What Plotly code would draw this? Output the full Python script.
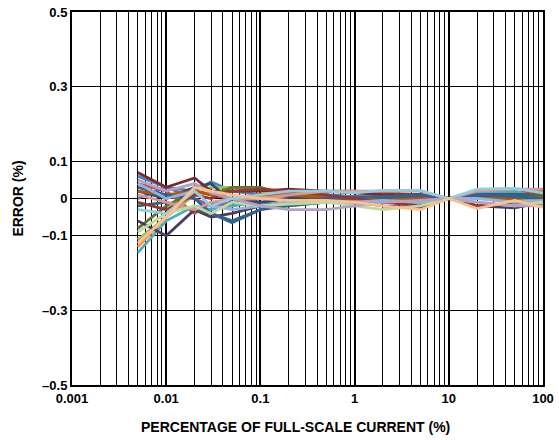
import plotly.graph_objects as go

# ---- data ----
x_pct = [0.005, 0.01, 0.02, 0.03, 0.05, 0.1, 0.2, 0.5, 1, 2, 5, 10, 20, 50, 100]

s01 = [0.06, 0.03, 0.02, 0.045, 0.02, 0.01, 0.01, 0.01, 0.005, 0.0, 0.005, 0, 0.01, 0.01, 0.005]
s02 = [0.04, 0.02, -0.04, -0.01, -0.02, 0.0, 0.01, 0.02, 0.02, 0.015, 0.01, 0, 0.01, 0.015, 0.02]
s03 = [-0.11, -0.05, 0.01, 0.03, 0.03, 0.02, 0.015, 0.01, -0.005, 0.01, 0.0, 0, 0.005, 0.0, -0.005]
s04 = [0.0, 0.03, 0.0, -0.02, -0.01, 0.0, 0.005, -0.005, -0.01, -0.01, -0.01, 0, -0.02, -0.02, -0.01]
s05 = [-0.145, -0.06, -0.02, -0.03, -0.02, -0.01, -0.02, -0.01, 0.0, 0.005, 0.01, 0, 0.015, 0.02, 0.0]
s06 = [-0.13, -0.05, 0.02, 0.01, 0.0, 0.005, 0.0, 0.0, 0.005, 0.0, 0.005, 0, 0.0, 0.005, 0.0]
s07 = [0.02, 0.0, 0.03, 0.04, -0.01, -0.01, 0.0, 0.005, 0.0, 0.005, 0.01, 0, 0.01, 0.01, 0.0]
s08 = [0.07, 0.03, 0.055, 0.02, 0.02, 0.02, 0.025, 0.02, 0.015, 0.01, 0.01, 0, 0.005, 0.01, 0.01]
s09 = [-0.08, -0.02, 0.02, 0.01, 0.03, 0.03, 0.01, 0.0, 0.0, 0.005, 0.0, 0, 0.0, 0.005, 0.01]
s10 = [-0.06, -0.1, -0.03, -0.05, -0.04, -0.02, -0.01, -0.005, -0.01, -0.02, -0.025, 0, -0.02, -0.025, -0.01]
s11 = [-0.02, -0.01, -0.03, -0.04, -0.06, -0.03, -0.02, -0.01, 0.0, 0.0, 0.005, 0, 0.005, 0.01, 0.005]
s12 = [0.02, 0.01, 0.02, 0.01, 0.0, 0.01, 0.01, 0.005, 0.0, -0.005, 0.0, 0, 0.0, 0.0, 0.005]
s13 = [0.03, 0.01, 0.0, -0.04, -0.065, -0.03, -0.01, 0.0, 0.005, 0.005, 0.01, 0, 0.01, 0.005, 0.0]
s14 = [-0.01, -0.03, 0.01, 0.0, 0.02, 0.025, 0.02, 0.01, 0.0, -0.01, -0.02, 0, -0.02, -0.015, -0.02]
s15 = [0.04, 0.0, 0.02, -0.02, -0.03, -0.02, -0.01, -0.01, -0.01, -0.005, -0.01, 0, 0.0, -0.01, -0.005]
s16 = [0.01, -0.01, -0.03, -0.01, 0.0, 0.0, 0.01, 0.02, 0.02, 0.02, 0.02, 0, 0.02, 0.025, 0.025]
s17 = [-0.09, -0.04, -0.02, -0.04, -0.01, -0.02, -0.015, -0.01, -0.02, -0.03, -0.02, 0, -0.01, -0.02, -0.01]
s18 = [0.05, 0.02, 0.04, 0.015, 0.0, -0.02, -0.03, -0.03, -0.02, -0.01, -0.005, 0, -0.01, -0.02, -0.02]
s19 = [-0.03, -0.04, 0.02, -0.02, 0.0, 0.01, 0.02, 0.02, 0.015, 0.022, 0.022, 0, 0.025, 0.027, 0.015]
s20 = [-0.12, -0.05, 0.03, 0.02, 0.01, 0.0, -0.005, -0.005, -0.01, -0.02, -0.03, 0, -0.027, -0.005, -0.024]

series = [s01, s02, s03, s04, s05, s06, s07, s08, s09, s10,
          s11, s12, s13, s14, s15, s16, s17, s18, s19, s20]
colors = ["#4F81BD", "#C0504D", "#9BBB59", "#8064A2", "#4BACC6", "#F79646",
          "#2C4D75", "#772C2A", "#5F7530", "#4D3B62", "#276A7C", "#B65708",
          "#376092", "#953735", "#95B3D7", "#D99694", "#C3D69B", "#B3A2C7",
          "#93CDDD", "#FAC090"]

y_ticks = [-0.5, -0.3, -0.1, 0, 0.1, 0.3, 0.5]
y_labels = ["–0.5", "–0.3", "–0.1", "0", "0.1", "0.3", "0.5"]
x_ticks = [0.001, 0.01, 0.1, 1, 10, 100]
x_labels = ["0.001", "0.01", "0.1", "1", "10", "100"]
x_title = "PERCENTAGE OF FULL-SCALE CURRENT (%)"
y_title = "ERROR (%)"

minor_x = [m * d for d in [0.001, 0.01, 0.1, 1, 10] for m in range(2, 10)]

fig = go.Figure()
for vals, c in zip(series, colors):
    fig.add_trace(go.Scatter(x=x_pct, y=vals, mode="lines",
                             line=dict(color=c, width=2.8), showlegend=False,
                             hoverinfo="skip"))

fam = "Liberation Sans, Arial, sans-serif"
tick_font = dict(family=fam, size=13, color="black", weight="bold")
title_font = dict(family=fam, size=14, color="black", weight="bold")

fig.update_layout(
    width=559, height=440,
    margin=dict(l=72, r=16, t=12, b=55, autoexpand=False),
    plot_bgcolor="white", paper_bgcolor="white",
    font=tick_font,
    xaxis=dict(
        type="log", range=[-3, 2],
        tickvals=x_ticks, ticktext=x_labels,
        showgrid=True, gridcolor="black", gridwidth=2,
        showline=True, linecolor="black", linewidth=2, mirror=True,
        ticks="", automargin=False,
        minor=dict(tickvals=minor_x, showgrid=True, gridcolor="black", gridwidth=1, ticks=""),
        tickfont=tick_font,
        zeroline=False,
    ),
    yaxis=dict(
        range=[-0.5, 0.5],
        tickvals=y_ticks, ticktext=y_labels,
        showgrid=True, gridcolor="black", gridwidth=1,
        showline=True, linecolor="black", linewidth=2, mirror=True,
        ticks="", zeroline=False, automargin=False,
        title=dict(text=y_title, font=title_font, standoff=15),
        tickfont=tick_font,
    ),
    annotations=[dict(text=x_title, xref="paper", yref="paper",
                      x=0.475, y=-0.113, xanchor="center", yanchor="middle",
                      showarrow=False, font=title_font)],
)

fig.write_html("out.html", config={"displayModeBar": False},
               post_script="document.body.style.margin='0';")
